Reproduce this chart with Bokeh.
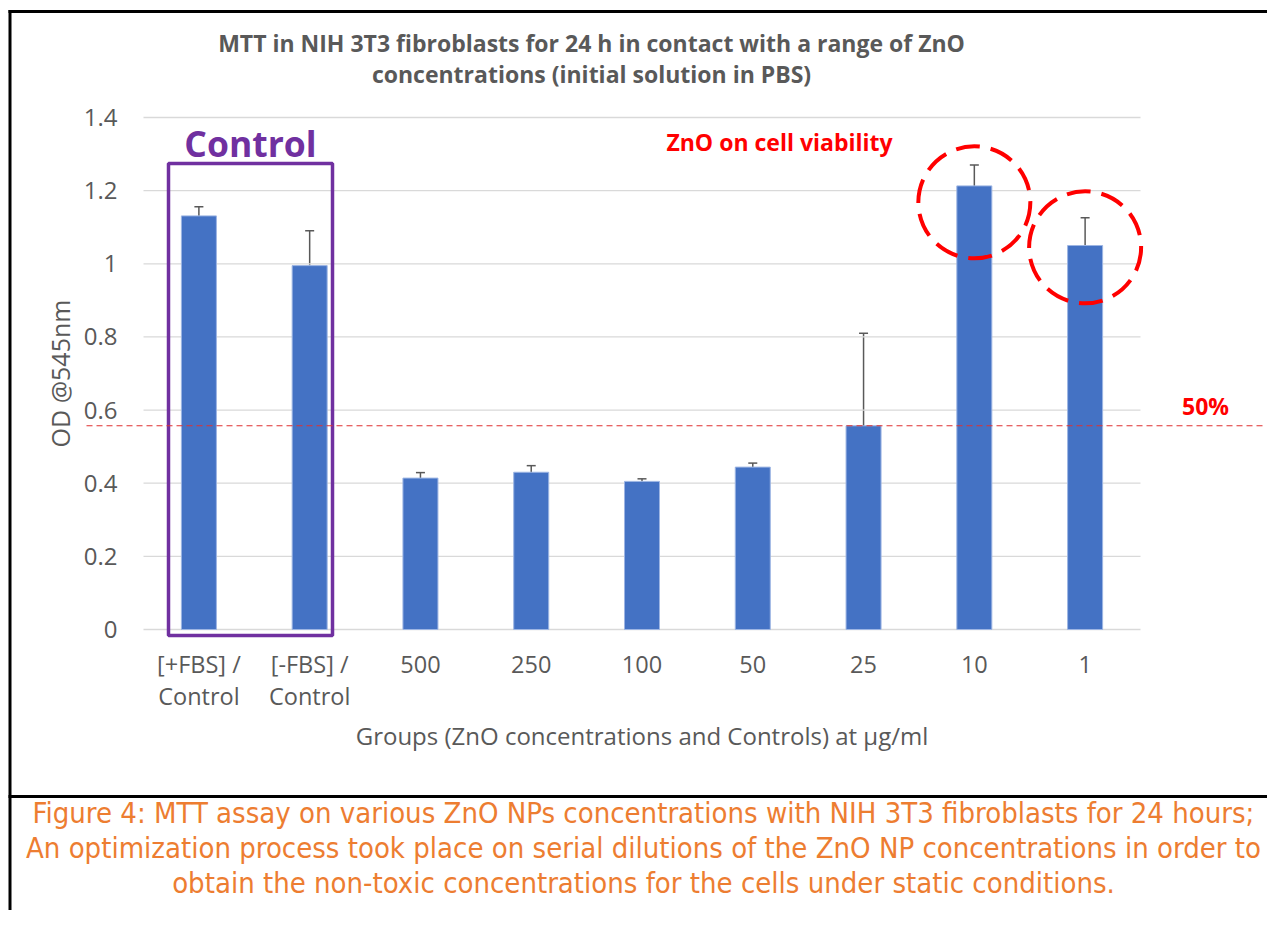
from bokeh.plotting import figure
from bokeh.models import (Range1d, FixedTicker, NumeralTickFormatter, ColumnDataSource,
                          Whisker, TeeHead, Label)
from bokeh.embed import file_html
from bokeh.resources import INLINE

# ---------------- data ----------------
categories = ["[+FBS] /\nControl", "[-FBS] /\nControl", "500", "250", "100", "50", "25", "10", "1"]
od_mean = [1.131, 0.995, 0.414, 0.430, 0.405, 0.444, 0.557, 1.213, 1.050]
od_err = [0.025, 0.095, 0.015, 0.018, 0.007, 0.011, 0.253, 0.057, 0.076]
y_ticks = [0, 0.2, 0.4, 0.6, 0.8, 1.0, 1.2, 1.4]
half_viability = 0.557

title_lines = ["MTT in NIH 3T3 fibroblasts for 24 h in contact with a range of ZnO",
               "concentrations (initial solution in PBS)"]
caption_lines = ["Figure 4: MTT assay on various ZnO NPs concentrations with NIH 3T3 fibroblasts for 24 hours;",
                 "An optimization process took place on serial dilutions of the ZnO NP concentrations in order to",
                 "obtain the non-toxic concentrations for the cells under static conditions."]

FONT = "Open Sans"
GREY = "#595959"

# ---------------- page layout (pixels) ----------------
W, H = 1267, 910
PX_L, PX_R = 143, 1140      # plot-area left / right
PX_ZERO, PX_TOP = 629, 117  # y = 0 and y = 1.4
n = len(categories)
xpu = (PX_R - PX_L) / n
ypu = (PX_ZERO - PX_TOP) / y_ticks[-1]

def dx(sx):
    return (sx - PX_L) / xpu - 0.5

def dy(sy):
    return (PX_ZERO - sy) / ypu

xs = list(range(n))
src = ColumnDataSource(dict(
    x=xs, top=od_mean,
    upper=[m + e for m, e in zip(od_mean, od_err)],
    lower=[m - e for m, e in zip(od_mean, od_err)],
))

p = figure(width=W, height=H, output_backend="svg", toolbar_location=None,
           x_range=Range1d(dx(0), dx(W)), y_range=Range1d(dy(H), dy(0)),
           min_border=0, min_border_left=0, min_border_right=0, min_border_top=0, min_border_bottom=0)
p.title.visible = False
p.outline_line_color = None
p.background_fill_color = "white"
p.border_fill_color = "white"
p.xgrid.grid_line_color = None
p.ygrid.grid_line_color = None

# y axis (anchored at the plot-area's left edge)
p.yaxis.fixed_location = -0.5
p.yaxis.bounds = (y_ticks[0], y_ticks[-1])
p.yaxis.ticker = FixedTicker(ticks=y_ticks)
p.yaxis.formatter = NumeralTickFormatter(format="0.[0]")
p.yaxis.axis_line_color = None
p.yaxis.major_tick_line_color = None
p.yaxis.minor_tick_line_color = None
p.yaxis.major_tick_in = 0
p.yaxis.major_tick_out = 0
p.yaxis.major_label_text_font = FONT
p.yaxis.major_label_text_font_size = "24px"
p.yaxis.major_label_text_color = GREY
p.yaxis.major_label_standoff = 26
p.yaxis.axis_label = "OD @545nm"
p.yaxis.axis_label_text_font = FONT
p.yaxis.axis_label_text_font_style = "normal"
p.yaxis.axis_label_text_font_size = "25px"
p.yaxis.axis_label_text_color = GREY
p.yaxis.axis_label_standoff = 4

# x axis (anchored at y = 0)
p.xaxis.fixed_location = 0
p.xaxis.bounds = (-0.5, n - 0.5)
p.xaxis.ticker = FixedTicker(ticks=xs)
p.xaxis.major_label_overrides = {i: c for i, c in zip(xs, categories)}
p.xaxis.axis_line_color = None
p.xaxis.major_tick_line_color = None
p.xaxis.minor_tick_line_color = None
p.xaxis.major_tick_in = 0
p.xaxis.major_tick_out = 0
p.xaxis.major_label_text_font = FONT
p.xaxis.major_label_text_font_size = "23.5px"
p.xaxis.major_label_text_line_height = 1.0
p.xaxis.major_label_text_color = GREY
p.xaxis.major_label_standoff = 18
p.xaxis.axis_label = "Groups (ZnO concentrations and Controls) at \u00b5g/ml"
p.xaxis.axis_label_text_font = FONT
p.xaxis.axis_label_text_font_style = "normal"
p.xaxis.axis_label_text_font_size = "24px"
p.xaxis.axis_label_text_color = GREY
p.xaxis.axis_label_standoff = 4

# horizontal gridlines over the plot area only
p.segment(x0=[-0.5] * len(y_ticks), x1=[n - 0.5] * len(y_ticks), y0=y_ticks, y1=y_ticks,
          line_color="#D9D9D9", line_width=1.3)

# bars + error bars
p.vbar(x="x", top="top", width=0.316, source=src, fill_color="#4472C4", line_color="#9DB5E3", line_width=1)
p.add_layout(Whisker(source=src, base="x", upper="upper", lower="lower", line_color=GREY, line_width=1.5,
                     upper_head=TeeHead(size=9, line_color=GREY, line_width=1.5),
                     lower_head=TeeHead(size=9, line_color=GREY, line_width=1.5)))

# control box
p.quad(left=[dx(168)], right=[dx(332)], bottom=[dy(635)], top=[dy(163)],
       fill_color=None, line_color="#7030A0", line_width=3.5)
p.add_layout(Label(x=dx(250), y=dy(142), text="Control", text_align="center", text_baseline="middle",
                   text_font=FONT, text_font_style="bold", text_font_size="35.5px", text_color="#7030A0"))

# red dashed circles
p.scatter(x=[xs[7], xs[8]], y=[od_mean[7] - 0.045, od_mean[8] - 0.005], marker="circle", size=112,
          fill_color=None, line_color="#FF0000", line_width=4, line_dash="24 11")

p.add_layout(Label(x=dx(779), y=dy(141), text="ZnO on cell viability", text_align="center",
                   text_baseline="middle", text_font=FONT, text_font_style="bold",
                   text_font_size="23px", text_color="#FF0000"))

# 50% dashed line
p.segment(x0=[dx(86)], x1=[dx(1262)], y0=[half_viability], y1=[half_viability],
          line_color="#E03030", line_width=1.1, line_dash="6 4")
p.add_layout(Label(x=dx(1205), y=dy(405), text="50%", text_align="center", text_baseline="middle",
                   text_font=FONT, text_font_style="bold", text_font_size="23px", text_color="#FF0000"))

# title
for i, t in enumerate(title_lines):
    p.add_layout(Label(x=dx(591), y=dy(42 + 31 * i), text=t, text_align="center", text_baseline="middle",
                       text_font=FONT, text_font_style="bold", text_font_size="23px", text_color=GREY))

# frame borders (left edge, top edge, separator above caption), each its own glyph
p.line(x=[dx(9.5), dx(9.5)], y=[dy(9.5), dy(H + 20)], line_color="black", line_width=3)
p.line(x=[dx(8), dx(W + 20)], y=[dy(11), dy(11)], line_color="black", line_width=3)
p.line(x=[dx(8), dx(W + 20)], y=[dy(796), dy(796)], line_color="black", line_width=3)

# caption
for i, t in enumerate(caption_lines):
    p.add_layout(Label(x=dx(643), y=dy(812 + 35 * i), text=t, text_align="center", text_baseline="middle",
                       text_font="DejaVu Sans Condensed", text_font_size="29px", text_color="#ED7D31"))

open("out.html", "w").write(file_html(p, INLINE))
